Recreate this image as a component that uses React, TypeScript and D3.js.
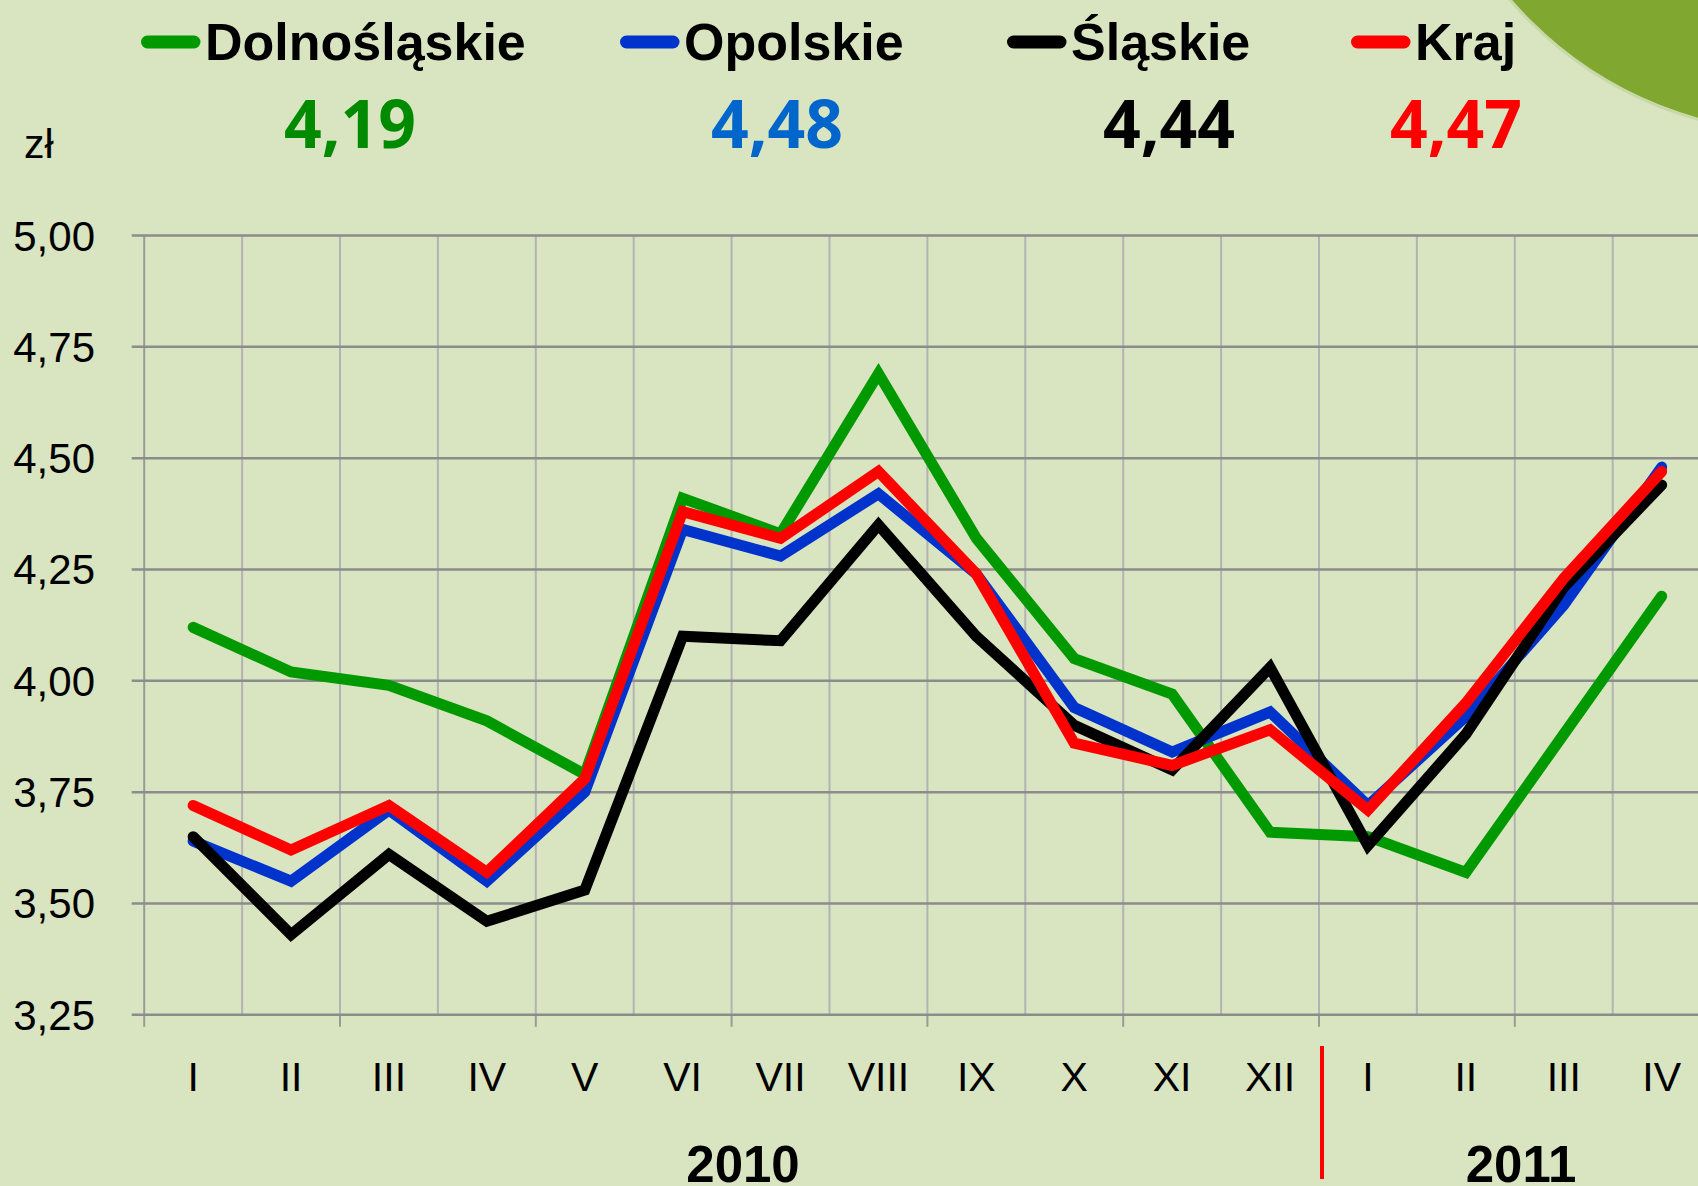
import React from "react";
import * as d3 from "d3";

const W = 1698;
const H = 1186;

const months = ["I", "II", "III", "IV", "V", "VI", "VII", "VIII", "IX", "X", "XI", "XII", "I", "II", "III", "IV"];
const categoryIds = months.map((m, i) => `${i < 12 ? 2010 : 2011}-${m}`);
const yTicks = [3.25, 3.5, 3.75, 4.0, 4.25, 4.5, 4.75, 5.0];

const dolnoslaskie = [4.12, 4.02, 3.99, 3.91, 3.79, 4.41, 4.33, 4.69, 4.32, 4.05, 3.97, 3.66, 3.65, 3.57, 3.88, 4.19];
const opolskie = [3.64, 3.55, 3.71, 3.55, 3.75, 4.34, 4.28, 4.42, 4.24, 3.94, 3.84, 3.93, 3.72, 3.92, 4.17, 4.48];
const slaskie = [3.65, 3.43, 3.61, 3.46, 3.53, 4.1, 4.09, 4.35, 4.1, 3.9, 3.8, 4.03, 3.63, 3.88, 4.21, 4.44];
const kraj = [3.72, 3.62, 3.72, 3.57, 3.78, 4.38, 4.32, 4.47, 4.24, 3.86, 3.81, 3.89, 3.71, 3.95, 4.23, 4.47];

const seriesNames = ["Dolnośląskie", "Opolskie", "Śląskie", "Kraj"];
const seriesColors = ["#009900", "#0033CC", "#000000", "#FF0000"];
const valueColors = ["#008A00", "#0066CC", "#000000", "#FF0000"];
const latestLabels = ["4,19", "4,48", "4,44", "4,47"];
const yearLabels = ["2010", "2011"];

const seriesValues = [dolnoslaskie, opolskie, slaskie, kraj];

export default function App() {
  const plotLeft = 144.2;
  const band = 97.9;
  const x = d3.scaleBand<string>().domain(categoryIds).range([plotLeft, plotLeft + band * categoryIds.length]).padding(0);
  const y = d3.scaleLinear().domain([3.25, 5.0]).range([1014.8, 235.5]);
  const cx = (i: number) => (x(categoryIds[i]) as number) + x.bandwidth() / 2;

  const line = d3
    .line<number>()
    .x((_, i) => cx(i))
    .y((d) => y(d));

  const boundaries = d3.range(categoryIds.length + 1).map((i) => plotLeft + i * x.bandwidth());
  const fmt = (v: number) => v.toFixed(2).replace(".", ",");

  const legendX = [141, 620, 1007, 1351];
  const valueCenters = [350, 777, 1169, 1456];
  const sans = "'Liberation Sans', Arial, sans-serif";

  const yBottom = y(3.25);
  const yTop = y(5.0);

  return (
    <svg width={W} height={H} viewBox={`0 0 ${W} ${H}`} style={{ position: "absolute", left: 0, top: 0, display: "block" }}>
      <rect x={0} y={0} width={W} height={H} fill="#D9E4C0" />
      <circle cx={1799.5} cy={-248} r={381} fill="#80A72F" stroke="#C9D8A8" strokeWidth={3} />

      {/* vertical gridlines */}
      {boundaries.map((bx, i) => (
        <line key={`v${i}`} x1={bx} x2={bx} y1={yTop} y2={yBottom} stroke={i === 0 ? "#9a9a9a" : "#b3b3b3"} strokeWidth={2} />
      ))}
      {/* x-axis tick marks every 2 categories */}
      {boundaries
        .filter((_, i) => i % 2 === 0)
        .map((bx, i) => (
          <line key={`t${i}`} x1={bx} x2={bx} y1={yBottom} y2={yBottom + 12} stroke="#9a9a9a" strokeWidth={2} />
        ))}
      {/* horizontal gridlines */}
      {yTicks.map((t) => (
        <line key={`h${t}`} x1={131.7} x2={W} y1={y(t)} y2={y(t)} stroke="#8c8c8c" strokeWidth={2.5} />
      ))}

      {/* y tick labels */}
      {yTicks.map((t) => (
        <text key={`yl${t}`} x={95} y={y(t) + 15} textAnchor="end" fontFamily={sans} fontSize={42} fill="#000">
          {fmt(t)}
        </text>
      ))}
      <text x={24} y={158} fontFamily={sans} fontSize={41} fill="#000">
        zł
      </text>

      {/* series lines */}
      {seriesValues.map((vals, s) => (
        <path
          key={`s${s}`}
          d={line(vals) || ""}
          fill="none"
          stroke={seriesColors[s]}
          strokeWidth={11}
          strokeLinejoin="miter"
          strokeMiterlimit={4}
          strokeLinecap="round"
        />
      ))}

      {/* x labels */}
      {months.map((m, i) => (
        <text key={`xl${i}`} x={cx(i)} y={1091} textAnchor="middle" fontFamily={sans} fontSize={41} fill="#000">
          {m}
        </text>
      ))}
      <text x={743} y={1182} textAnchor="middle" fontFamily={sans} fontWeight="bold" fontSize={51} fill="#000">
        {yearLabels[0]}
      </text>
      <text x={1521} y={1182} textAnchor="middle" fontFamily={sans} fontWeight="bold" fontSize={51} fill="#000">
        {yearLabels[1]}
      </text>
      <line x1={1322} x2={1322} y1={1046} y2={1179} stroke="#FF0000" strokeWidth={4} />

      {/* legend */}
      {seriesNames.map((name, s) => (
        <g key={`lg${s}`}>
          <line x1={legendX[s] + 6.5} x2={legendX[s] + 53} y1={42} y2={42} stroke={seriesColors[s]} strokeWidth={13} strokeLinecap="round" />
          <text x={legendX[s] + 64} y={60} fontFamily={sans} fontWeight="bold" fontSize={52} fill="#000">
            {name}
          </text>
          <text
            x={valueCenters[s]}
            y={148}
            textAnchor="middle"
            fontFamily="'Open Sans', Lato, sans-serif"
            fontWeight="bold"
            fontSize={66}
            fill={valueColors[s]}
          >
            {latestLabels[s]}
          </text>
        </g>
      ))}
    </svg>
  );
}
